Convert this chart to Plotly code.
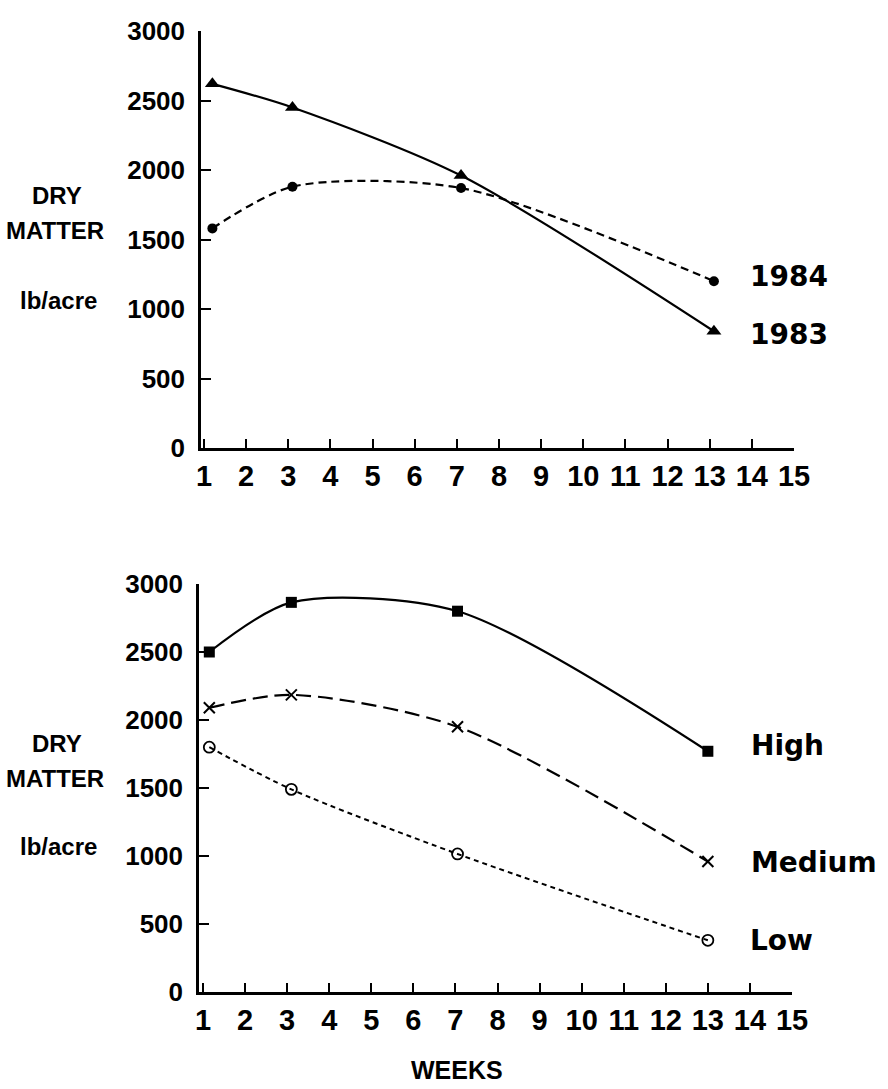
import plotly.graph_objects as go

W, H = 888, 1089

# ---- data ----
weeks_1983 = [1.2, 3.1, 7.1, 13.1]
dm_1983 = [2620, 2450, 1960, 840]
weeks_1984 = [1.2, 3.1, 7.1, 13.1]
dm_1984 = [1580, 1880, 1870, 1200]

weeks_level = [1.15, 3.1, 7.05, 13.0]
dm_high = [2500, 2865, 2800, 1770]
dm_medium = [2090, 2185, 1950, 960]
dm_low = [1800, 1490, 1015, 380]

x_ticks = list(range(1, 16))
y_ticks = [0, 500, 1000, 1500, 2000, 2500, 3000]

NARROW = "Liberation Sans, Arial, sans-serif"
HEAVY = "DejaVu Sans, sans-serif"


def px(p):
    return p / W


def py(p):
    return 1 - p / H


fig = go.Figure()

# top panel
fig.add_trace(go.Scatter(x=weeks_1983, y=dm_1983, mode="lines+markers",
                         line=dict(color="black", width=2.2, shape="spline", smoothing=0.8),
                         marker=dict(symbol="triangle-up", size=13, color="black"),
                         xaxis="x", yaxis="y", showlegend=False))
fig.add_trace(go.Scatter(x=weeks_1984, y=dm_1984, mode="lines+markers",
                         line=dict(color="black", width=2.2, shape="spline", smoothing=0.8, dash="8px,5px"),
                         marker=dict(symbol="circle", size=10, color="black"),
                         xaxis="x", yaxis="y", showlegend=False))

# bottom panel
fig.add_trace(go.Scatter(x=weeks_level, y=dm_high, mode="lines+markers",
                         line=dict(color="black", width=2.2, shape="spline", smoothing=0.8),
                         marker=dict(symbol="square", size=11, color="black"),
                         xaxis="x2", yaxis="y2", showlegend=False))
fig.add_trace(go.Scatter(x=weeks_level, y=dm_medium, mode="lines+markers",
                         line=dict(color="black", width=2.2, shape="spline", smoothing=0.8, dash="15px,7px"),
                         marker=dict(symbol="x-thin", size=11, color="black",
                                     line=dict(color="black", width=2)),
                         xaxis="x2", yaxis="y2", showlegend=False))
fig.add_trace(go.Scatter(x=weeks_level, y=dm_low, mode="lines+markers",
                         line=dict(color="black", width=2, shape="spline", smoothing=0.8, dash="5px,4px"),
                         marker=dict(symbol="circle-open", size=11, color="black",
                                     line=dict(color="black", width=1.8)),
                         xaxis="x2", yaxis="y2", showlegend=False))

xtickfont = dict(family=NARROW, size=29, color="black", weight="bold")
ytickfont = dict(family=NARROW, size=26, color="black", weight="bold")

xcommon = dict(tickvals=x_ticks, ticktext=[str(v) for v in x_ticks], ticks="inside",
               ticklen=9, tickwidth=2, tickcolor="black", showline=True, linecolor="black",
               linewidth=2.5, showgrid=False, zeroline=False, tickfont=xtickfont,
               fixedrange=True, automargin=False)
ycommon = dict(tickvals=y_ticks, ticktext=[str(v) for v in y_ticks], ticks="inside",
               ticklen=10, tickwidth=2, tickcolor="black", showline=True, linecolor="black",
               linewidth=2.5, showgrid=False, zeroline=False, tickfont=ytickfont,
               range=[0, 3000], ticklabelstandoff=8, fixedrange=True, automargin=False)

fig.update_layout(
    width=W, height=H,
    margin=dict(l=0, r=0, t=0, b=0, pad=0, autoexpand=False),
    paper_bgcolor="white", plot_bgcolor="white",
    xaxis=dict(domain=[px(201), px(794)], range=[0.93, 15.0], anchor="y", **xcommon),
    yaxis=dict(domain=[py(448), py(31)], anchor="x", **ycommon),
    xaxis2=dict(domain=[px(199), px(792)], range=[0.905, 15.0], anchor="y2", **xcommon),
    yaxis2=dict(domain=[py(992), py(584)], anchor="x2", **ycommon),
)

ann = []


def add_text(text, x, y, family, size, xanchor="center"):
    ann.append(dict(text=text, x=px(x), y=py(y), xref="paper", yref="paper",
                    xanchor=xanchor, yanchor="middle", showarrow=False,
                    font=dict(family=family, size=size, color="black", weight="bold")))


# y axis titles
for dy, mid, lb in [(196, 230, 300), (743, 778, 846)]:
    add_text("DRY", 57, dy, NARROW, 24)
    add_text("MATTER", 55, mid, NARROW, 24)
    add_text("lb/acre", 58, lb, NARROW, 24)

# series labels
add_text("1984", 748, 277, HEAVY, 28, xanchor="left")
add_text("1983", 748, 335, HEAVY, 28, xanchor="left")
add_text("High", 749, 745, HEAVY, 28, xanchor="left")
add_text("Medium", 749, 862, HEAVY, 28, xanchor="left")
add_text("Low", 748, 940, HEAVY, 28, xanchor="left")

# x axis title
add_text("WEEKS", 457, 1070, NARROW, 25)

fig.update_layout(annotations=ann)

fig.write_html("out.html")
